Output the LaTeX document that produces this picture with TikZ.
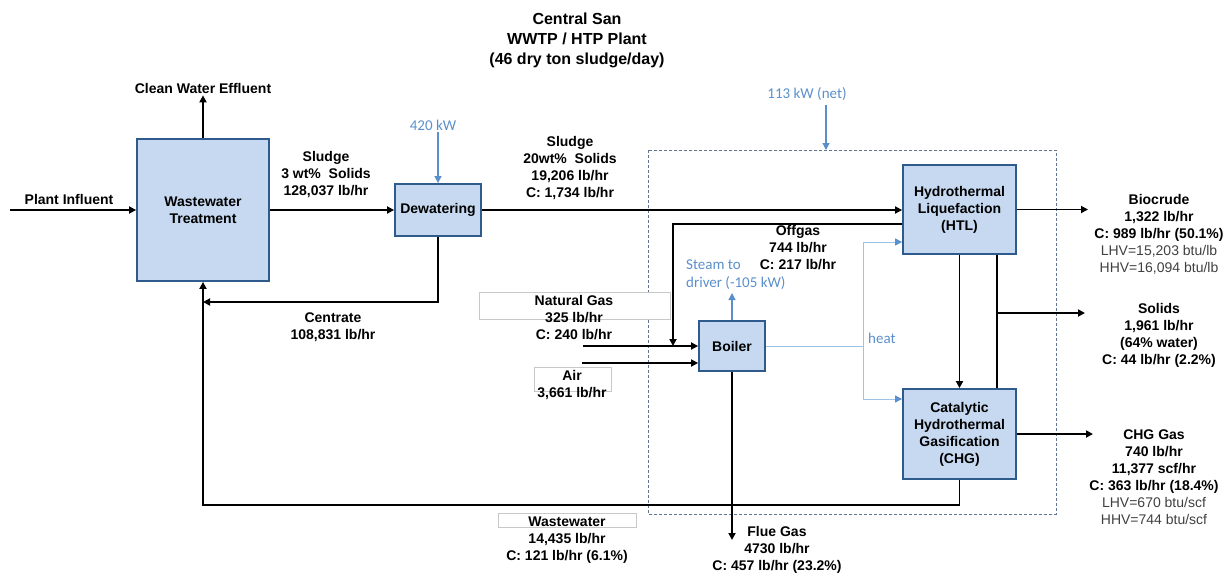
\documentclass[tikz,border=0pt]{standalone}
\usepackage{fontspec}
\setmainfont{Liberation Sans}
\newfontfamily\calib{Carlito}
\usetikzlibrary{arrows.meta,calc}
\definecolor{boxfill}{HTML}{C6D9F1}
\definecolor{boxline}{HTML}{2F5A8C}
\definecolor{bluetxt}{HTML}{5B8FCB}
\definecolor{heatline}{HTML}{9DC3E6}
\definecolor{dashline}{HTML}{5F7590}
\definecolor{lblgray}{HTML}{C8C8C8}
\tikzset{
  proc/.style={draw=boxline, fill=boxfill, line width=1.8pt, align=center,
    font=\bfseries\fontsize{14}{17}\selectfont, inner sep=0pt},
  lbl/.style={align=center, font=\bfseries\fontsize{14}{17}\selectfont, inner sep=2pt},
  rlbl/.style={align=center, font=\fontsize{14}{17}\selectfont, inner sep=2pt},
  blbl/.style={align=center, text=bluetxt, font=\calib\fontsize{15}{18}\selectfont, inner sep=2pt},
  arr/.style={line width=1.7pt, -{Triangle[length=7pt,width=7pt]}},
  plain/.style={line width=1.7pt},
  barr/.style={draw=bluetxt, line width=1.2pt, -{Triangle[length=7pt,width=7pt]}},
  heat/.style={draw=heatline, line width=1pt},
  heatarr/.style={draw=heatline, line width=1pt, -{Triangle[length=7pt,width=7pt,color=bluetxt]}},
  lblbox/.style={draw=lblgray, line width=0.6pt, fill=white},
}
\begin{document}
\begin{tikzpicture}[x=1pt,y=-1pt]
\useasboundingbox (0,0) rectangle (1226,574);

% dashed HTP boundary
\draw[dashline, line width=1pt, dash pattern=on 3pt off 2pt] (648,150) rectangle (1056,514);

% gray label boxes
\draw[lblbox] (479,292) rectangle (670,319);
\draw[lblbox] (534,367) rectangle (611,391);
\draw[lblbox] (498,513) rectangle (636,527);

% title
\node[align=center, font=\bfseries\fontsize{16}{20}\selectfont] (title) at (577,40)
  {Central San\\WWTP / HTP Plant\\(46 dry ton sludge/day)};

% process boxes
\node[proc, minimum width=132pt, minimum height=142pt] (wt) at (203,210) {Wastewater\\Treatment};
\node[proc, minimum width=86pt, minimum height=52pt] (dew) at (438,210) {Dewatering};
\node[proc, minimum width=113pt, minimum height=89pt] (htl) at (959.5,209.5) {Hydrothermal\\Liquefaction\\(HTL)};
\node[proc, minimum width=113pt, minimum height=90pt] (chg) at (959.5,434) {Catalytic\\Hydrothermal\\Gasification\\(CHG)};
\node[proc, minimum width=66pt, minimum height=50pt] (boiler) at (732,346) {Boiler};

% labels
\node[lbl] (cwe) at (203,88) {Clean Water Effluent};
\node[lbl] (pin) at (69,199) {Plant Influent};
\node[lbl] (sl1) at (326,174.5) {Sludge\\3 wt\%~ Solids\\128,037 lb/hr};
\node[blbl] (kw420) at (433,125) {420 kW};
\node[lbl] (sl2) at (570,168.5) {Sludge\\20wt\%~ Solids\\19,206 lb/hr\\C: 1,734 lb/hr};
\node[lbl] (cen) at (333,327) {Centrate\\108,831 lb/hr};
\node[lbl] (off) at (798,248) {Offgas\\744 lb/hr\\C: 217 lb/hr};
\node[blbl, align=left, anchor=west] (steam) at (684,275) {Steam to\\driver (-105 kW)};
\node[lbl] (ng) at (574,318) {Natural Gas\\325 lb/hr\\C: 240 lb/hr};
\node[lbl] (air) at (572,385.5) {Air\\3,661 lb/hr};
\node[blbl, anchor=west] (heatlbl) at (866,338) {heat};
\node[blbl] (kw113) at (807,94) {113 kW (net)};
\node[rlbl] (bio) at (1159,234) {\textbf{Biocrude}\\\textbf{1,322 lb/hr}\\\textbf{C: 989 lb/hr (50.1\%)}\\\textcolor{black!75}{LHV=15,203 btu/lb}\\\textcolor{black!75}{HHV=16,094 btu/lb}};
\node[lbl] (sol) at (1159,335.5) {Solids\\1,961 lb/hr\\(64\% water)\\C: 44 lb/hr (2.2\%)};
\node[rlbl] (gas) at (1154,477) {\textbf{CHG Gas}\\\textbf{740 lb/hr}\\\textbf{11,377 scf/hr}\\\textbf{C: 363 lb/hr (18.4\%)}\\\textcolor{black!75}{LHV=670 btu/scf}\\\textcolor{black!75}{HHV=744 btu/scf}};
\node[lbl] (ww) at (567,540) {Wastewater\\14,435 lb/hr\\C: 121 lb/hr (6.1\%)};
\node[lbl] (flue) at (777,550) {Flue Gas\\4730 lb/hr\\C: 457 lb/hr (23.2\%)};

% free ends
\coordinate (pinS) at (10,210);
\coordinate (cj) at (203,302);
\coordinate (wb) at (203,505);
\coordinate (ogend) at (673,346);
\coordinate (ngs) at (583,346);
\coordinate (airs) at (582,363);
\coordinate (stm) at (732,293);
\coordinate (fg) at (732,540);
\coordinate (hj) at (863,346);
\coordinate (sj) at (997,313);
\coordinate (solend) at (1085,313);
\coordinate (bioend) at (1088,210);
\coordinate (gasend) at (1093,434);
\coordinate (dashtop) at (826,150);
\coordinate (kwtop) at (826,105);

% connectors
\draw[arr] (pinS) -- (wt.west);
\draw[arr] (wt.north) -- (cwe.south);
\draw[arr] (wt.east) -- (dew.west);
\draw[barr] (dew.north |- kw420.south) -- (dew.north);
\draw[arr] (dew.east) -- (dew.east -| htl.west);
\draw[arr] (dew.south) |- (cj);
\draw[arr] (chg.south) |- (wb) -- (wt.south);
\draw[arr] ($(htl.west)+(0,14.5)$) -| (ogend);
\draw[arr] (ngs) -- (boiler.west);
\draw[arr] (airs) -- (airs -| boiler.west);
\draw[barr] (boiler.north) -- (stm);
\draw[arr] (boiler.south) -- (fg);
\draw[heat] (boiler.east) -- (hj);
\draw[heatarr] (hj) |- ($(htl.west)+(0,32.5)$);
\draw[heatarr] (hj) |- ($(chg.west)+(0,-35)$);
\draw[arr] (htl.south) -- (chg.north);
\draw[plain] ($(htl.south)+(37.5,0)$) -- ($(chg.north)+(37.5,0)$);
\draw[arr] (sj) -- (solend);
\draw[arr] (htl.east) -- (htl.east -| bioend);
\draw[arr] (chg.east) -- (chg.east -| gasend);
\draw[barr] (kwtop) -- (dashtop);
\end{tikzpicture}
\end{document}
